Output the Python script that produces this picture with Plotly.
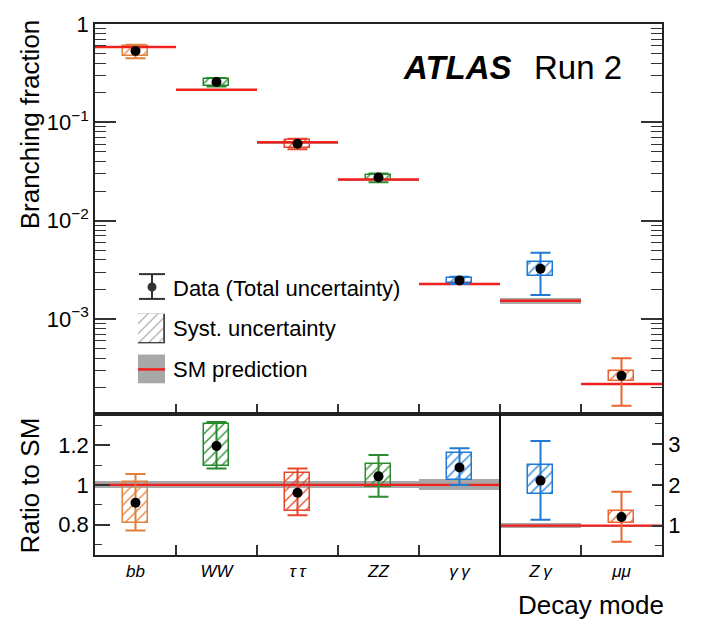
import math
import plotly.graph_objects as go

# ---------------- data ----------------
categories = ["bb", "WW", "ττ", "ZZ", "γγ", "Zγ", "μμ"]
tick_labels = ["<i>bb</i>", "<i>WW</i>", "<i>τ\u2009τ</i>", "<i>ZZ</i>", "<i>γ\u2009γ</i>", "<i>Z\u2009γ</i>", "<i>μμ</i>"]
colors = ["#e0803c", "#23892a", "#e8472c", "#2e8b2e", "#2179d3", "#2179d3", "#e9642e"]

# top panel: branching fractions
bf_obs = [0.532, 0.257, 0.0605, 0.0275, 0.00247, 0.00324, 0.000265]
bf_tot_lo = [0.448, 0.232, 0.0531, 0.0246, 0.00227, 0.00175, 0.000131]
bf_tot_hi = [0.614, 0.282, 0.0679, 0.0301, 0.00269, 0.00471, 0.000399]
bf_syst_lo = [0.471, 0.234, 0.0544, 0.0259, 0.00233, 0.00272, 0.000233]
bf_syst_hi = [0.591, 0.279, 0.0665, 0.0289, 0.00263, 0.00381, 0.000296]
bf_sm = [0.582, 0.214, 0.0627, 0.0262, 0.00227, 0.00153, 0.000218]

# bottom panel: ratio to SM
ratio_obs = [0.91, 1.196, 0.96, 1.043, 1.088, 2.105, 1.21]
ratio_tot_lo = [0.77, 1.083, 0.847, 0.94, 1.0, 1.146, 0.60]
ratio_tot_hi = [1.055, 1.317, 1.083, 1.15, 1.185, 3.08, 1.83]
ratio_syst_lo = [0.81, 1.093, 0.868, 0.988, 1.025, 1.78, 1.07]
ratio_syst_hi = [1.016, 1.305, 1.06, 1.103, 1.16, 2.49, 1.356]
sm_rel_unc = [0.018, 0.018, 0.018, 0.018, 0.028, 0.065, 0.018]
ratio_axis = ["left", "left", "left", "left", "left", "right", "right"]

FONT = "Liberation Sans, Arial, Helvetica, sans-serif"
W, H = 724, 619
PL, PR, PT, PB = 95, 662, 20, 555
SPLIT = 413


def px(x):
    return (x - PL) / (PR - PL)


def py(y):
    return (PB - y) / (PB - PT)


fig = go.Figure()
xs = list(range(len(categories)))
BOXW = 0.31

for i, c in enumerate(categories):
    col = colors[i]
    # ---- top panel ----
    sm = bf_sm[i]
    u = sm_rel_unc[i]
    fig.add_trace(go.Bar(x=[i], y=[2 * sm * u], base=[sm * (1 - u)], width=[1.0],
                         marker=dict(color="#a8a8a8", line=dict(width=0)),
                         xaxis="x", yaxis="y", showlegend=False, hoverinfo="skip"))
    fig.add_trace(go.Scatter(x=[i - 0.5, i + 0.5], y=[sm, sm], mode="lines",
                             line=dict(color="#f0201e", width=2.5),
                             xaxis="x", yaxis="y", showlegend=False, hoverinfo="skip"))
    fig.add_trace(go.Bar(x=[i], y=[bf_syst_hi[i] - bf_syst_lo[i]], base=[bf_syst_lo[i]], width=[BOXW],
                         marker=dict(color=col, line=dict(color=col, width=1.5),
                                     pattern=dict(shape="/", fillmode="replace", size=7, solidity=0.18)),
                         xaxis="x", yaxis="y", showlegend=False, hoverinfo="skip"))
    fig.add_trace(go.Scatter(x=[i], y=[bf_obs[i]], mode="markers",
                             marker=dict(color="black", size=10),
                             error_y=dict(type="data", symmetric=False,
                                          array=[bf_tot_hi[i] - bf_obs[i]],
                                          arrayminus=[bf_obs[i] - bf_tot_lo[i]],
                                          color=col, thickness=2, width=10),
                             xaxis="x", yaxis="y", showlegend=False, name=c))
    # ---- ratio panel ----
    ya = "y2" if ratio_axis[i] == "left" else "y3"
    fig.add_trace(go.Bar(x=[i], y=[2 * u], base=[1 - u], width=[1.0],
                         marker=dict(color="#a8a8a8", line=dict(width=0)),
                         xaxis="x2", yaxis=ya, showlegend=False, hoverinfo="skip"))
    fig.add_trace(go.Scatter(x=[i - 0.5, i + 0.5], y=[1, 1], mode="lines",
                             line=dict(color="#f0201e", width=2.2),
                             xaxis="x2", yaxis=ya, showlegend=False, hoverinfo="skip"))
    fig.add_trace(go.Bar(x=[i], y=[ratio_syst_hi[i] - ratio_syst_lo[i]], base=[ratio_syst_lo[i]], width=[BOXW],
                         marker=dict(color=col, line=dict(color=col, width=1.5),
                                     pattern=dict(shape="/", fillmode="replace", size=7, solidity=0.18)),
                         xaxis="x2", yaxis=ya, showlegend=False, hoverinfo="skip"))
    fig.add_trace(go.Scatter(x=[i], y=[ratio_obs[i]], mode="markers",
                             marker=dict(color="black", size=10),
                             error_y=dict(type="data", symmetric=False,
                                          array=[ratio_tot_hi[i] - ratio_obs[i]],
                                          arrayminus=[ratio_obs[i] - ratio_tot_lo[i]],
                                          color=col, thickness=2, width=10),
                             xaxis="x2", yaxis=ya, showlegend=False, name=c))

# legend hatched-box icon on an auxiliary invisible axis
fig.add_trace(go.Bar(x=[0], y=[1], base=[0], width=[1.0],
                     marker=dict(color="#9a9a9a", line=dict(color="#444444", width=1.8),
                                 pattern=dict(shape="/", fillmode="replace", size=7, solidity=0.15)),
                     xaxis="x3", yaxis="y4", showlegend=False, hoverinfo="skip"))
# invisible trace to activate the mirrored right-hand log axis of the top panel
fig.add_trace(go.Scatter(x=[None], y=[None], xaxis="x", yaxis="y5", showlegend=False, hoverinfo="skip"))

split_frac = (PB - SPLIT) / (PB - PT)
edges = [k + 0.5 for k in range(len(categories) - 1)]

top_major = [1e-3, 1e-2, 1e-1, 1]
top_major_text = ["10<sup>−3</sup>", "10<sup>−2</sup>", "10<sup>−1</sup>", "1"]
top_minor = [m * 10 ** e for e in range(-4, 0) for m in range(2, 10)]
top_range = [math.log10(1.08e-4), 0]

axis_common = dict(showgrid=False, zeroline=False, showline=True, linecolor="#222222", linewidth=1.5,
                   tickcolor="#333333", tickfont=dict(family=FONT, size=21, color="black"))
top_minor_spec = dict(tickvals=top_minor, ticks="inside", ticklen=11, tickwidth=1.2, tickcolor="#333333")

fig.update_layout(
    width=W, height=H,
    margin=dict(l=PL, r=W - PR, t=PT, b=H - PB),
    paper_bgcolor="white", plot_bgcolor="white",
    barmode="overlay", bargap=0,
    showlegend=False,
    font=dict(family=FONT, color="black"),
    xaxis=dict(domain=[0, 1], anchor="y", range=[-0.5, 6.5], tickvals=edges, ticks="inside",
               ticklen=10, tickwidth=1.5, showticklabels=False, mirror=True, **axis_common),
    yaxis=dict(domain=[split_frac, 1], anchor="x", type="log", range=top_range,
               tickvals=top_major, ticktext=top_major_text, ticks="inside", ticklen=21, tickwidth=1.5,
               minor=top_minor_spec,
               **{**axis_common, "tickfont": dict(family=FONT, size=22, color="black")}),
    yaxis5=dict(overlaying="y", side="right", anchor="x", type="log", range=top_range,
                tickvals=top_major, ticks="inside", ticklen=21, tickwidth=1.5, showticklabels=False,
                minor=top_minor_spec, **axis_common),
    xaxis2=dict(domain=[0, 1], anchor="y2", range=[-0.5, 6.5], tickvals=xs, ticktext=tick_labels,
                ticks="", mirror=True,
                minor=dict(tickvals=edges, ticks="inside", ticklen=10, tickwidth=1.5, tickcolor="#333333"),
                **{**axis_common, "tickfont": dict(family=FONT, size=17, color="black")}),
    yaxis2=dict(domain=[0, split_frac], anchor="x2", range=[0.6465, 1.357],
                tickvals=[0.8, 1.0, 1.2], ticktext=["0.8", "1", "1.2"], ticks="inside", ticklen=15,
                tickwidth=1.5,
                minor=dict(tickvals=[0.7, 0.9, 1.1, 1.3], ticks="inside", ticklen=7, tickwidth=1.2,
                           tickcolor="#333333"),
                **{**axis_common, "tickfont": dict(family=FONT, size=22, color="black")}),
    yaxis3=dict(overlaying="y2", side="right", anchor="x2", range=[0.277, 3.740],
                tickvals=[1, 2, 3], ticktext=["1", "2", "3"], ticks="inside", ticklen=10, tickwidth=1.5,
                minor=dict(tickvals=[0.5, 1.5, 2.5, 3.5], ticks="inside", ticklen=7, tickwidth=1.2,
                           tickcolor="#333333"),
                **{**axis_common, "tickfont": dict(family=FONT, size=22, color="black")}),
    xaxis3=dict(domain=[px(138), px(165)], anchor="y4", range=[-0.5, 0.5], visible=False, fixedrange=True),
    yaxis4=dict(domain=[py(342), py(312)], anchor="x3", range=[0, 1], visible=False, fixedrange=True),
)

shapes = [
    # divider between left/right ratio axes
    dict(type="line", xref="x2", yref="y2 domain", x0=4.5, x1=4.5, y0=0, y1=1,
         line=dict(color="#111111", width=2)),
    # legend: data marker icon
    dict(type="line", xref="paper", yref="paper", x0=px(152), x1=px(152), y0=py(272), y1=py(297),
         line=dict(color="#333333", width=2)),
    dict(type="line", xref="paper", yref="paper", x0=px(139), x1=px(165), y0=py(272), y1=py(272),
         line=dict(color="#333333", width=2)),
    dict(type="line", xref="paper", yref="paper", x0=px(139), x1=px(165), y0=py(297), y1=py(297),
         line=dict(color="#333333", width=2)),
    dict(type="circle", xref="paper", yref="paper", x0=px(147.5), x1=px(156.5), y0=py(289.5), y1=py(280.5),
         fillcolor="#333333", line=dict(color="#333333", width=0)),
    # legend: SM prediction icon
    dict(type="rect", xref="paper", yref="paper", x0=px(138), x1=px(165), y0=py(382), y1=py(353),
         fillcolor="#a8a8a8", line=dict(width=0)),
    dict(type="line", xref="paper", yref="paper", x0=px(138), x1=px(165), y0=py(368), y1=py(368),
         line=dict(color="#f0201e", width=2.5)),
]
fig.update_layout(shapes=shapes)

ann = [
    dict(text="Branching fraction", x=px(30), y=py(121), textangle=-90, font=dict(size=26)),
    dict(text="Ratio to SM", x=px(30), y=py(485), textangle=-90, font=dict(size=26)),
    dict(text="Decay mode", x=px(666), y=py(605), xanchor="right", font=dict(size=26)),
    dict(text="<b><i>ATLAS</i></b>", x=px(401), y=py(64), xanchor="left", font=dict(size=33)),
    dict(text="Run 2", x=px(532), y=py(64), xanchor="left", font=dict(size=33)),
    dict(text="Data (Total uncertainty)", x=px(171), y=py(286), xanchor="left", font=dict(size=22)),
    dict(text="Syst. uncertainty", x=px(171), y=py(327), xanchor="left", font=dict(size=22)),
    dict(text="SM prediction", x=px(171), y=py(368), xanchor="left", font=dict(size=22)),
]
for a in ann:
    a.setdefault("xanchor", "center")
    a.setdefault("yanchor", "middle")
    a["xref"] = "paper"
    a["yref"] = "paper"
    a["showarrow"] = False
    a["font"] = dict(family=FONT, color="black", **a["font"])
fig.update_layout(annotations=ann)

fig.write_html("out.html")
